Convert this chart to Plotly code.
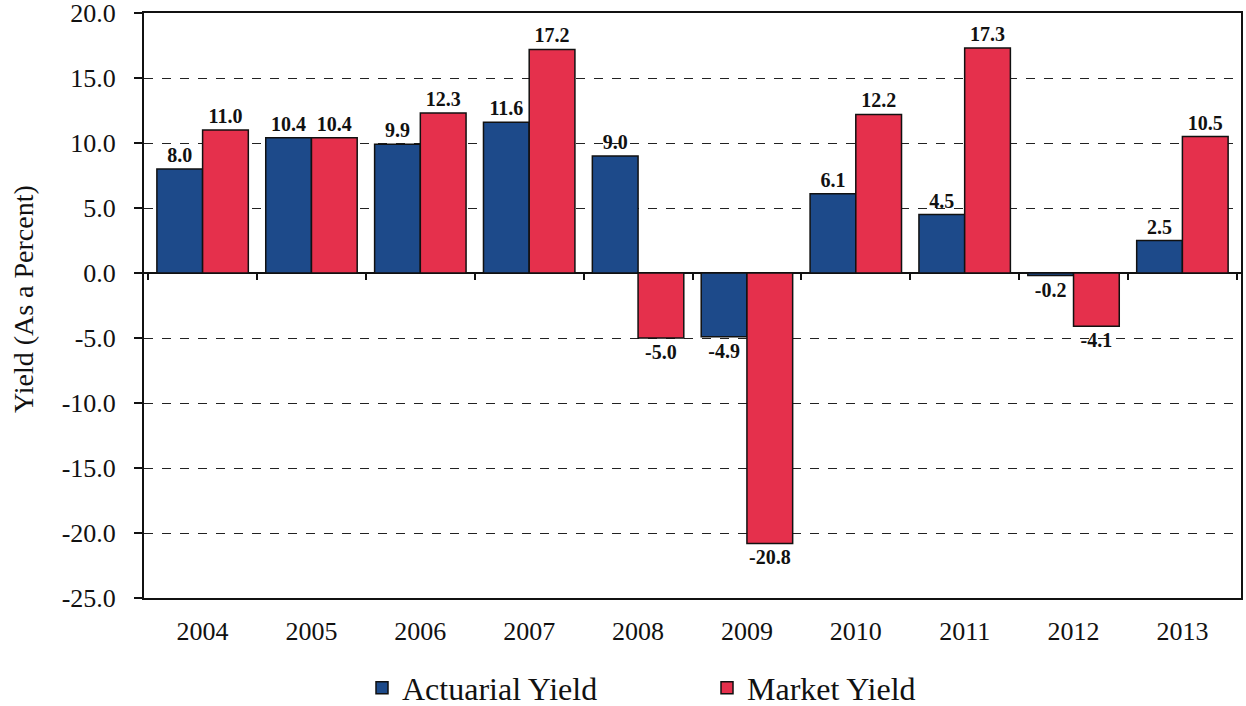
import plotly.graph_objects as go

years = ["2004", "2005", "2006", "2007", "2008", "2009", "2010", "2011", "2012", "2013"]
actuarial_yield = [8.0, 10.4, 9.9, 11.6, 9.0, -4.9, 6.1, 4.5, -0.2, 2.5]
market_yield = [11.0, 10.4, 12.3, 17.2, -5.0, -20.8, 12.2, 17.3, -4.1, 10.5]
y_ticks = [20, 15, 10, 5, 0, -5, -10, -15, -20, -25]
y_tick_labels = ["20.0", "15.0", "10.0", "5.0", "0.0", "-5.0", "-10.0", "-15.0", "-20.0", "-25.0"]

BLUE = "#1d4a8a"
RED = "#e5304c"
FONT = "'Liberation Serif', 'Times New Roman', 'DejaVu Serif', serif"

fig = go.Figure()
fig.add_trace(go.Bar(
    x=years, y=actuarial_yield, name="Actuarial Yield",
    marker=dict(color=BLUE, line=dict(color="#111111", width=1.5)),
    text=[f"{v:.1f}" for v in actuarial_yield], textposition="outside",
    textfont=dict(family=FONT, size=20, color="#111111"),
    texttemplate="<b>%{text}</b>", cliponaxis=False, constraintext="none",
))
fig.add_trace(go.Bar(
    x=years, y=market_yield, name="Market Yield",
    marker=dict(color=RED, line=dict(color="#111111", width=1.5)),
    text=[f"{v:.1f}" for v in market_yield], textposition="outside",
    textfont=dict(family=FONT, size=20, color="#111111"),
    texttemplate="<b>%{text}</b>", cliponaxis=False, constraintext="none",
))
# invisible trace to carry category tick marks on the zero line
fig.add_trace(go.Scatter(x=years, y=[0]*len(years), xaxis="x2", mode="markers",
                         marker=dict(opacity=0), showlegend=False, hoverinfo="skip"))

fig.update_layout(
    width=1246, height=706,
    paper_bgcolor="white", plot_bgcolor="white",
    margin=dict(l=144, r=5, t=13, b=108, autoexpand=False),
    barmode="group", bargap=0.16, bargroupgap=0.0,
    font=dict(family=FONT, color="#111111"),
    legend=dict(orientation="h", xref="container", x=362/1246, xanchor="left",
                yref="container", y=1-688/706, yanchor="middle",
                font=dict(family=FONT, size=32), traceorder="normal",
                entrywidth=300, bgcolor="rgba(0,0,0,0)"),
    showlegend=True,
    xaxis=dict(
        type="category", showgrid=False, showline=True, linecolor="#111111", linewidth=2,
        mirror=True, ticks="", tickfont=dict(family=FONT, size=26), zeroline=False,
        ticklabelstandoff=9, automargin=False, ticklabeloverflow="allow",
    ),
    xaxis2=dict(
        type="category", overlaying="x", anchor="free", position=25/45, matches="x",
        showline=False, showgrid=False, ticks="outside", ticklen=6, tickwidth=1.5,
        tickcolor="#111111", tickson="boundaries", showticklabels=False, zeroline=False,
    ),
    yaxis=dict(
        range=[-25, 20], tickvals=y_ticks, ticktext=y_tick_labels,
        showline=True, linecolor="#111111", linewidth=2, mirror=True,
        ticks="outside", ticklen=8, tickwidth=1.5, tickcolor="#111111",
        tickfont=dict(family=FONT, size=26), automargin=False, ticklabelstandoff=13,
        ticklabeloverflow="allow",
        showgrid=True, gridcolor="#222222", gridwidth=1, griddash="dash",
        zeroline=True, zerolinecolor="#111111", zerolinewidth=1.5,
    ),
    annotations=[dict(
        text="Yield (As a Percent)", textangle=-90, showarrow=False,
        xref="paper", yref="paper", x=(23-144)/1097, y=(598-299)/585,
        xanchor="center", yanchor="middle", font=dict(family=FONT, size=28, color="#111111"),
    )],
)

fig.write_html("out.html", post_script="document.body.style.margin='0';",
               config={"displayModeBar": False})
